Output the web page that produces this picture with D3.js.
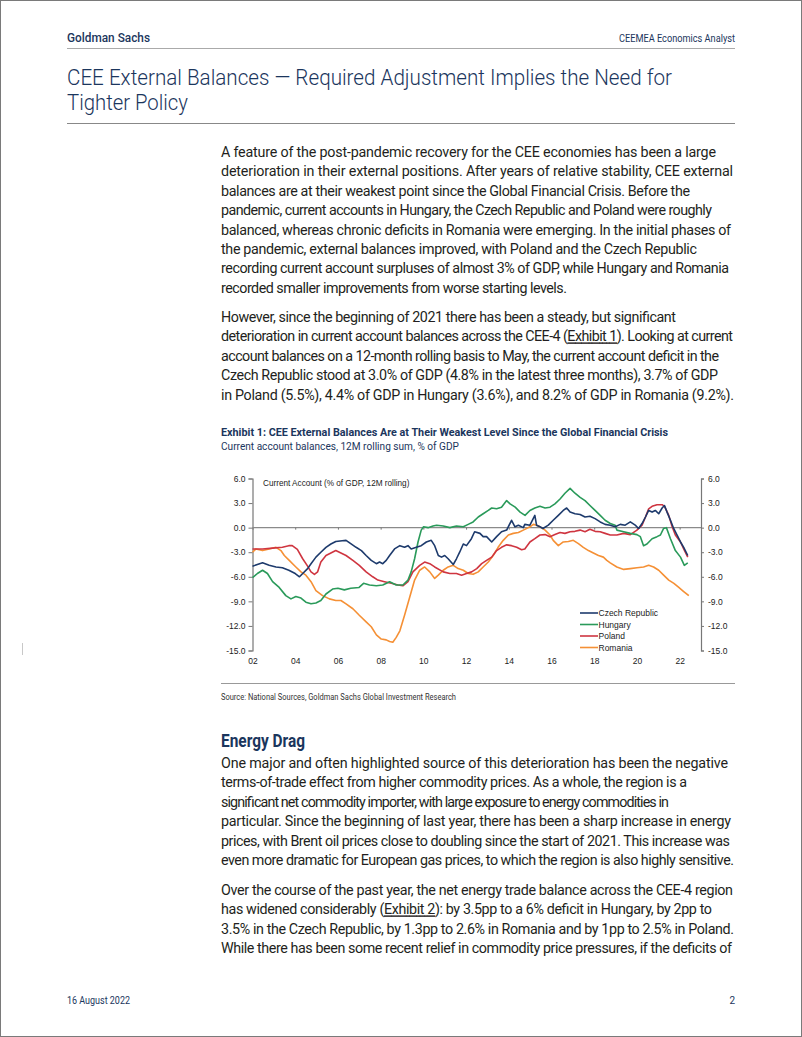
<!DOCTYPE html>
<html><head><meta charset="utf-8">
<script src="https://cdn.jsdelivr.net/npm/d3@7"></script>
<style>
html,body{margin:0;padding:0;background:#fff;}
svg{display:block;}
</style></head>
<body>
<svg id="page" width="802" height="1037"></svg>
<script>
// ---------------- DATA ----------------
const yearTicks = [2002, 2004, 2006, 2008, 2010, 2012, 2014, 2016, 2018, 2020, 2022];
const yearTickLabels = ["02","04","06","08","10","12","14","16","18","20","22"];
const valueTicks = [6, 3, 0, -3, -6, -9, -12, -15];
const valueTickLabels = ["6.0","3.0","0.0","-3.0","-6.0","-9.0","-12.0","-15.0"];
const seriesNames = ["Czech Republic", "Hungary", "Poland", "Romania"];

const czech = [[2002.0,-4.7],[2002.47,-4.3],[2002.78,-4.6],[2003.1,-4.8],[2003.4,-4.9],[2003.7,-5.2],[2004.0,-5.6],[2004.2,-6.0],[2004.35,-5.6],[2004.58,-5.0],[2004.74,-4.4],[2004.97,-3.6],[2005.2,-3.0],[2005.44,-2.4],[2005.67,-2.0],[2005.9,-1.7],[2006.2,-1.6],[2006.38,-1.55],[2006.6,-1.95],[2006.85,-2.4],[2007.1,-2.8],[2007.32,-3.4],[2007.56,-4.0],[2007.8,-4.4],[2007.95,-4.2],[2008.1,-4.4],[2008.26,-4.0],[2008.42,-3.4],[2008.65,-2.6],[2008.9,-2.2],[2009.12,-2.4],[2009.28,-2.2],[2009.43,-2.6],[2009.67,-2.4],[2009.9,-2.2],[2010.14,-1.75],[2010.37,-1.55],[2010.53,-2.2],[2010.7,-3.4],[2010.85,-3.6],[2011.0,-3.4],[2011.16,-3.8],[2011.4,-4.5],[2011.55,-3.8],[2011.7,-3.0],[2011.87,-2.0],[2012.02,-2.2],[2012.25,-1.35],[2012.4,-0.5],[2012.65,-0.7],[2012.8,-1.1],[2012.96,-1.1],[2013.2,-1.75],[2013.43,-1.1],[2013.66,-0.5],[2013.9,-0.3],[2014.13,0.9],[2014.29,0.1],[2014.45,0.3],[2014.68,0.0],[2014.75,0.4],[2014.99,0.3],[2015.22,1.5],[2015.3,0.3],[2015.46,0.1],[2015.6,-0.1],[2015.85,0.3],[2016.08,0.9],[2016.32,1.5],[2016.55,2.1],[2016.71,2.4],[2016.87,1.9],[2017.1,1.7],[2017.34,1.6],[2017.57,1.3],[2017.8,1.4],[2018.04,1.1],[2018.28,0.7],[2018.51,0.4],[2018.75,0.3],[2018.98,0.1],[2019.22,0.4],[2019.45,0.3],[2019.69,0.7],[2019.92,0.3],[2020.08,-0.1],[2020.24,0.5],[2020.4,1.3],[2020.55,2.1],[2020.71,1.9],[2020.86,2.1],[2021.02,1.7],[2021.18,2.4],[2021.29,2.7],[2021.41,1.9],[2021.57,0.9],[2021.72,-0.1],[2021.88,-0.9],[2022.04,-1.75],[2022.19,-2.4],[2022.38,-3.4]];

const hungary = [[2002.0,-6.1],[2002.23,-5.6],[2002.47,-5.2],[2002.7,-5.6],[2002.94,-6.6],[2003.25,-7.3],[2003.56,-8.3],[2003.8,-8.7],[2004.03,-8.4],[2004.27,-8.6],[2004.5,-9.1],[2004.74,-9.3],[2004.97,-9.2],[2005.2,-8.9],[2005.44,-8.1],[2005.75,-7.5],[2006.0,-7.4],[2006.3,-7.6],[2006.6,-7.4],[2006.99,-7.3],[2007.2,-6.8],[2007.48,-7.0],[2007.8,-7.1],[2008.1,-7.0],[2008.42,-6.6],[2008.73,-7.0],[2009.04,-7.0],[2009.28,-6.4],[2009.43,-5.4],[2009.59,-3.8],[2009.75,-1.75],[2009.9,-0.3],[2010.01,0.1],[2010.22,0.0],[2010.45,0.2],[2010.62,0.3],[2010.93,0.2],[2011.24,0.0],[2011.55,0.2],[2011.87,0.1],[2012.1,0.4],[2012.33,0.7],[2012.57,1.3],[2012.8,1.7],[2013.04,2.1],[2013.2,2.4],[2013.43,2.3],[2013.66,2.5],[2013.9,3.3],[2014.06,2.9],[2014.3,2.5],[2014.53,1.9],[2014.76,1.5],[2014.99,2.1],[2015.22,2.4],[2015.46,2.6],[2015.7,2.4],[2015.93,2.5],[2016.16,2.9],[2016.4,3.5],[2016.63,4.2],[2016.87,4.8],[2017.1,4.2],[2017.34,3.7],[2017.57,3.3],[2017.8,2.7],[2018.04,2.1],[2018.28,1.5],[2018.51,0.9],[2018.75,0.5],[2018.98,0.3],[2019.06,-0.3],[2019.38,-0.5],[2019.69,-0.7],[2020.0,-0.85],[2020.16,-1.1],[2020.31,-2.2],[2020.47,-2.0],[2020.71,-1.35],[2020.94,-1.1],[2021.1,-0.9],[2021.25,-0.1],[2021.38,0.0],[2021.57,-1.35],[2021.8,-2.8],[2022.04,-3.6],[2022.22,-4.6],[2022.38,-4.3]];

const poland = [[2002.0,-2.6],[2002.47,-2.6],[2002.94,-2.5],[2003.4,-2.4],[2003.7,-2.2],[2003.86,-2.2],[2004.1,-2.65],[2004.35,-3.8],[2004.58,-4.7],[2004.74,-5.4],[2004.9,-5.7],[2005.05,-5.4],[2005.2,-4.2],[2005.44,-3.4],[2005.67,-3.1],[2005.9,-2.8],[2006.14,-3.1],[2006.38,-3.4],[2006.7,-4.0],[2007.0,-4.6],[2007.32,-5.4],[2007.63,-6.0],[2007.87,-6.4],[2008.18,-6.6],[2008.5,-6.8],[2008.81,-7.0],[2009.04,-7.1],[2009.28,-6.6],[2009.51,-5.4],[2009.83,-4.6],[2010.06,-4.2],[2010.3,-4.4],[2010.53,-4.8],[2010.93,-5.4],[2011.24,-5.6],[2011.55,-5.6],[2011.79,-5.8],[2012.02,-5.6],[2012.26,-5.4],[2012.5,-5.0],[2012.73,-4.4],[2012.96,-4.0],[2013.2,-3.6],[2013.43,-2.8],[2013.66,-2.4],[2013.9,-2.1],[2014.13,-2.2],[2014.37,-2.4],[2014.6,-2.7],[2014.75,-2.6],[2014.99,-1.75],[2015.22,-1.35],[2015.46,-0.9],[2015.7,-0.85],[2015.93,-1.1],[2016.16,-0.85],[2016.4,-0.6],[2016.63,-0.7],[2016.87,-0.5],[2017.1,-0.45],[2017.34,-0.3],[2017.57,-0.5],[2017.8,-0.2],[2018.04,-0.45],[2018.28,-0.5],[2018.51,-0.7],[2018.75,-0.9],[2019.06,-0.9],[2019.38,-0.7],[2019.69,-0.85],[2020.0,-0.3],[2020.24,0.3],[2020.4,1.3],[2020.55,2.3],[2020.71,2.6],[2020.94,2.8],[2021.18,2.8],[2021.29,2.6],[2021.49,1.5],[2021.65,0.1],[2021.8,-0.9],[2022.04,-1.75],[2022.19,-2.6],[2022.38,-3.6]];

const romania = [[2002.0,-3.0],[2002.16,-2.6],[2002.47,-2.8],[2002.78,-2.6],[2003.1,-2.4],[2003.33,-2.8],[2003.49,-3.4],[2003.72,-4.0],[2004.03,-4.8],[2004.27,-5.4],[2004.5,-5.8],[2004.74,-6.6],[2004.97,-7.7],[2005.28,-8.3],[2005.6,-8.7],[2005.9,-8.9],[2006.14,-8.9],[2006.38,-9.3],[2006.7,-9.9],[2007.0,-10.7],[2007.32,-11.5],[2007.56,-12.1],[2007.8,-13.1],[2008.03,-13.6],[2008.26,-13.7],[2008.42,-13.9],[2008.57,-14.0],[2008.73,-13.4],[2008.9,-12.6],[2009.12,-10.7],[2009.36,-8.5],[2009.59,-6.4],[2009.83,-5.2],[2010.06,-4.8],[2010.3,-5.4],[2010.53,-6.2],[2010.7,-5.8],[2010.93,-5.2],[2011.16,-4.8],[2011.4,-4.6],[2011.63,-5.0],[2011.87,-5.2],[2012.1,-5.6],[2012.33,-5.7],[2012.57,-5.4],[2012.8,-4.8],[2013.04,-4.2],[2013.27,-3.4],[2013.5,-2.4],[2013.74,-1.55],[2013.98,-0.9],[2014.21,-0.7],[2014.45,-0.6],[2014.68,-0.3],[2014.99,0.1],[2015.15,0.4],[2015.3,0.3],[2015.46,0.1],[2015.7,-0.3],[2015.93,-0.9],[2016.08,-1.55],[2016.32,-2.2],[2016.55,-1.75],[2016.79,-1.7],[2017.02,-1.55],[2017.26,-1.95],[2017.49,-2.4],[2017.73,-2.8],[2017.96,-3.1],[2018.2,-3.4],[2018.43,-3.6],[2018.59,-4.0],[2018.75,-4.3],[2019.06,-4.8],[2019.38,-5.1],[2019.69,-5.0],[2020.0,-4.9],[2020.31,-4.8],[2020.55,-4.6],[2020.78,-4.8],[2021.02,-5.2],[2021.25,-5.8],[2021.49,-6.4],[2021.73,-6.8],[2021.96,-7.3],[2022.19,-7.8],[2022.43,-8.3]];

const seriesColors = ["#1d3a6c", "#2a9a5a", "#cf3540", "#f59035"];

// ---------------- PAGE TEXT ----------------
const para1 = [
 "A feature of the post-pandemic recovery for the CEE economies has been a large",
 "deterioration in their external positions. After years of relative stability, CEE external",
 "balances are at their weakest point since the Global Financial Crisis. Before the",
 "pandemic, current accounts in Hungary, the Czech Republic and Poland were roughly",
 "balanced, whereas chronic deficits in Romania were emerging. In the initial phases of",
 "the pandemic, external balances improved, with Poland and the Czech Republic",
 "recording current account surpluses of almost 3% of GDP, while Hungary and Romania",
 "recorded smaller improvements from worse starting levels."
];
const para1W = [495, 512, 469, 491, 510, 476, 508, 346];
const para2 = [
 ["However, since the beginning of 2021 there has been a steady, but significant"],
 ["deterioration in current account balances across the CEE-4 (", "Exhibit 1", "). Looking at current"],
 ["account balances on a 12-month rolling basis to May, the current account deficit in the"],
 ["Czech Republic stood at 3.0% of GDP (4.8% in the latest three months), 3.7% of GDP"],
 ["in Poland (5.5%), 4.4% of GDP in Hungary (3.6%), and 8.2% of GDP in Romania (9.2%)."]
];
const para2W = [455, 512, 498, 497, 513];
const para3 = [
 ["One major and often highlighted source of this deterioration has been the negative"],
 ["terms-of-trade effect from higher commodity prices. As a whole, the region is a"],
 ["significant net commodity importer, with large exposure to energy commodities in"],
 ["particular. Since the beginning of last year, there has been a sharp increase in energy"],
 ["prices, with Brent oil prices close to doubling since the start of 2021. This increase was"],
 ["even more dramatic for European gas prices, to which the region is also highly sensitive."]
];
const para3W = [507, 466, 448, 510, 509, 513];
const para4 = [
 ["Over the course of the past year, the net energy trade balance across the CEE-4 region"],
 ["has widened considerably (", "Exhibit 2", "): by 3.5pp to a 6% deficit in Hungary, by 2pp to"],
 ["3.5% in the Czech Republic, by 1.3pp to 2.6% in Romania and by 1pp to 2.5% in Poland."],
 ["While there has been some recent relief in commodity price pressures, if the deficits of"]
];
const para4W = [512, 491, 513, 511];

// ---------------- DRAW ----------------
const svg = d3.select("#page");
const navy = "#1b365d";
const body = "#231f20";

svg.append("rect").attr("x",0.5).attr("y",0.5).attr("width",801).attr("height",1036)
  .attr("fill","#fff").attr("stroke","#7a7a7a").attr("stroke-width",1);

function txt(x, y, s, size, opts = {}) {
  const t = svg.append("text").attr("x", x).attr("y", y)
    .attr("font-family", opts.family || "Roboto, 'Liberation Sans', sans-serif")
    .attr("font-size", size)
    .attr("font-weight", opts.weight || 400)
    .attr("fill", opts.fill || body)
    .attr("text-anchor", opts.anchor || "start");
  if (opts.len) t.attr("textLength", opts.len).attr("lengthAdjust", opts.adjust || "spacing");
  if (Array.isArray(s)) {
    s.forEach((part, i) => {
      const sp = t.append("tspan").text(part);
      if (i === 1) sp.attr("text-decoration", "underline");
    });
  } else t.text(s);
  return t;
}

// Header
txt(67, 42, "Goldman Sachs", 13.5, {fill: navy, weight: 500, len: 83, adjust: "spacingAndGlyphs"});
txt(735, 42, "CEEMEA Economics Analyst", 10.5, {fill: navy, anchor: "end", len: 116, adjust: "spacingAndGlyphs"});
svg.append("line").attr("x1",67).attr("x2",735).attr("y1",48.5).attr("y2",48.5).attr("stroke","#aaa").attr("stroke-width",1);

// Title
txt(67, 85, "CEE External Balances \u2014 Required Adjustment Implies the Need for", 22, {fill: navy, weight: 300, len: 605, adjust: "spacingAndGlyphs"});
txt(67, 110, "Tighter Policy", 22, {fill: navy, weight: 300, len: 121, adjust: "spacingAndGlyphs"});
svg.append("line").attr("x1",67).attr("x2",735).attr("y1",123.5).attr("y2",123.5).attr("stroke","#888").attr("stroke-width",1);

// Paragraph 1
para1.forEach((l, i) => txt(221, 157 + i * 19.4, l, 14.3, {len: para1W[i]}));
// Paragraph 2
para2.forEach((l, i) => txt(221, 322 + i * 19.4, l.length > 1 ? l : l[0], 14.3, {len: para2W[i]}));

// Exhibit title
txt(221, 436, "Exhibit 1: CEE External Balances Are at Their Weakest Level Since the Global Financial Crisis", 11, {fill: navy, weight: 700, len: 447, adjust: "spacingAndGlyphs"});
txt(221, 450, "Current account balances, 12M rolling sum, % of GDP", 10.5, {fill: navy, len: 238, adjust: "spacingAndGlyphs"});

// ---------------- CHART ----------------
const x = d3.scaleLinear().domain([2002, 2023]).range([252.5, 701]);
const y = d3.scaleLinear().domain([-15, 6]).range([650.5, 478.5]);
const axisFont = "'Liberation Sans', Arial, sans-serif";
const chart = svg.append("g");

const leftAxis = chart.append("g").attr("transform", `translate(${x(2002)},0)`)
  .call(d3.axisLeft(y).tickValues(valueTicks).tickFormat((d,i)=>valueTickLabels[i]).tickSize(4).tickPadding(3));
const rightAxis = chart.append("g").attr("transform", `translate(${x(2023)},0)`)
  .call(d3.axisRight(y).tickValues(valueTicks).tickFormat((d,i)=>valueTickLabels[i]).tickSize(3).tickPadding(4));
[leftAxis, rightAxis].forEach(a => {
  a.select(".domain").attr("stroke", "#777").attr("stroke-width", 1.2);
  a.selectAll(".tick line").attr("stroke", "#777");
  a.selectAll(".tick text").attr("font-family", axisFont).attr("font-size", 8.5).attr("fill", "#222");
});

chart.append("line").attr("x1", x(2002)).attr("x2", x(2023)).attr("y1", y(0)).attr("y2", y(0))
  .attr("stroke", "#8a8a8a").attr("stroke-width", 1.3);
const zeroAxis = chart.append("g").attr("transform", `translate(0,${y(0)})`)
  .call(d3.axisBottom(x).tickValues(yearTicks).tickFormat("").tickSize(2));
zeroAxis.select(".domain").remove();
zeroAxis.selectAll(".tick line").attr("stroke", "#777");

const bottomAxis = chart.append("g").attr("transform", `translate(0,${y(-15)})`)
  .call(d3.axisBottom(x).tickValues(yearTicks).tickFormat((d,i)=>yearTickLabels[i]).tickSize(0).tickPadding(7));
bottomAxis.select(".domain").remove();
bottomAxis.selectAll(".tick text").attr("font-family", axisFont).attr("font-size", 8.5).attr("fill", "#222");

chart.append("text").attr("x", 263).attr("y", 485.5).attr("font-family", axisFont)
  .attr("font-size", 8.2).attr("fill", "#222").text("Current Account (% of GDP, 12M rolling)");

const line = d3.line().x(d => x(d[0])).y(d => y(d[1])).curve(d3.curveLinear);
const allSeries = [czech, hungary, poland, romania];
[3, 2, 1, 0].forEach(i => {
  chart.append("path").datum(allSeries[i]).attr("d", line)
    .attr("fill", "none").attr("stroke", seriesColors[i]).attr("stroke-width", 1.6)
    .attr("stroke-linejoin", "round");
});

const legend = chart.append("g");
seriesNames.forEach((n, i) => {
  const ly = 613 + i * 11.5;
  legend.append("line").attr("x1", 580).attr("x2", 598).attr("y1", ly).attr("y2", ly)
    .attr("stroke", seriesColors[i]).attr("stroke-width", 1.6);
  legend.append("text").attr("x", 598.5).attr("y", ly + 3).attr("font-family", axisFont)
    .attr("font-size", 8.5).attr("fill", "#222").text(n);
});

svg.append("line").attr("x1",221).attr("x2",735).attr("y1",683.5).attr("y2",683.5).attr("stroke","#999").attr("stroke-width",1);
txt(221, 700, "Source: National Sources, Goldman Sachs Global Investment Research", 9, {fill: "#333", len: 235, adjust: "spacingAndGlyphs"});

txt(221, 747, "Energy Drag", 18.5, {fill: navy, weight: 700, len: 84, adjust: "spacingAndGlyphs"});
para3.forEach((l, i) => txt(221, 768 + i * 19.4, l[0], 14.3, {len: para3W[i]}));
para4.forEach((l, i) => txt(221, 895 + i * 19.4, l.length > 1 ? l : l[0], 14.3, {len: para4W[i]}));

txt(67, 1004, "16 August 2022", 10, {fill: navy, len: 63, adjust: "spacingAndGlyphs"});
txt(735, 1004, "2", 10, {fill: navy, anchor: "end"});

svg.append("line").attr("x1",22.5).attr("x2",22.5).attr("y1",643).attr("y2",655).attr("stroke","#c8c8c8").attr("stroke-width",1);
</script>
</body></html>
